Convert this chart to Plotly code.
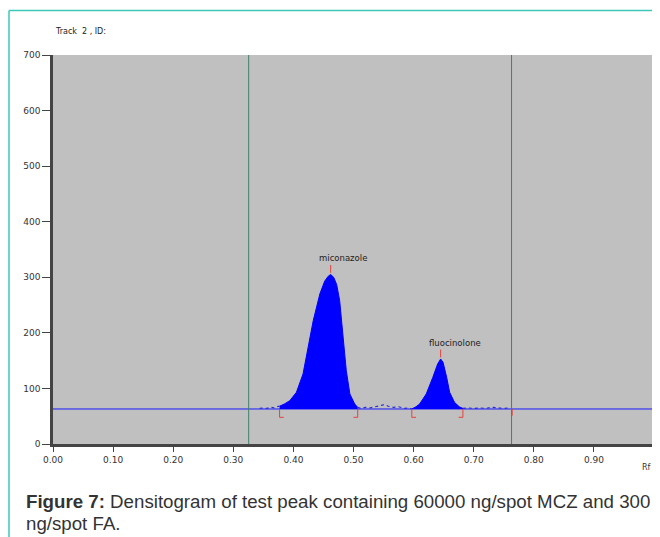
import plotly.graph_objects as go

# baseline of the densitogram (AU)
base = 63

# scan outside the peaks (Rf, AU)
pre_rf = [0.344, 0.350, 0.356, 0.362, 0.368, 0.372, 0.377]
pre_val = [64, 65, 64, 66, 65, 67, 68]
mid_rf = [0.507, 0.512, 0.520, 0.528, 0.536, 0.545, 0.552, 0.558, 0.566, 0.575, 0.585, 0.592, 0.597]
mid_val = [66, 64, 66, 65, 67, 69, 71, 68, 66, 67, 64, 65, 63]
post_rf = [0.682, 0.690, 0.700, 0.710, 0.720, 0.730, 0.740, 0.750, 0.758]
post_val = [64, 65, 64, 65, 64, 66, 65, 64, 65]

# miconazole peak
mic_rf = [0.377, 0.385, 0.394, 0.405, 0.416, 0.424, 0.433, 0.444, 0.452, 0.458, 0.462,
          0.467, 0.472, 0.477, 0.483, 0.488, 0.494, 0.502, 0.507]
mic_val = [68, 72, 78, 93, 126, 168, 222, 270, 293, 302, 305,
           300, 287, 258, 192, 132, 90, 72, 66]

# fluocinolone peak
fluo_rf = [0.597, 0.604, 0.610, 0.621, 0.632, 0.640, 0.645, 0.649, 0.655, 0.660, 0.668, 0.676, 0.682]
fluo_val = [63, 67, 72, 90, 120, 144, 153, 147, 120, 93, 75, 67, 64]

peak_names = ["miconazole", "fluocinolone"]
peak_rf = [0.462, 0.645]
peak_val = [305, 153]
peak_start = [0.377, 0.597]
peak_end = [0.507, 0.682]
track_lines = [0.3256, 0.763]

x_ticks = [0.0, 0.1, 0.2, 0.3, 0.4, 0.5, 0.6, 0.7, 0.8, 0.9]
x_labels = ["0.00", "0.10", "0.20", "0.30", "0.40", "0.50", "0.60", "0.70", "0.80", "0.90"]
y_ticks = [0, 100, 200, 300, 400, 500, 600, 700]

# page body adds an 8px margin, so the figure is drawn 8px in from the window
OFF = 8
W, H = 660 - OFF, 537 - OFF
L, R, T = 45, 6, 47
B = H - T - 389
pw, ph = W - L - R, H - T - B

def px_x(x):  # window pixel -> paper
    return (x - OFF - L) / pw

def px_y(y):
    return (H - B - (y - OFF)) / ph

blue = "#0000ff"
red = "#e8413a"

fig = go.Figure()

# full width baseline
fig.add_trace(go.Scatter(x=[0, 1], y=[base, base], mode="lines",
                         line=dict(color="#1a1aff", width=1), hoverinfo="skip"))

# filled peaks
for rf, val in [(mic_rf, mic_val), (fluo_rf, fluo_val)]:
    fig.add_trace(go.Scatter(x=rf, y=[base] * len(rf), mode="lines",
                             line=dict(width=0, color=blue), hoverinfo="skip"))
    fig.add_trace(go.Scatter(x=rf, y=val, mode="lines", fill="tonexty",
                             fillcolor=blue, line=dict(color=blue, width=1)))

# noisy scan segments
for rf, val in [(pre_rf, pre_val), (mid_rf, mid_val), (post_rf, post_val)]:
    fig.add_trace(go.Scatter(x=rf, y=val, mode="lines",
                             line=dict(color="#2a2ad8", width=1.2, dash="dot")))

# green track limits
for t in track_lines:
    fig.add_shape(type="line", x0=t, x1=t, y0=0, y1=700,
                  line=dict(color="#3f7f6c", width=1))

# red integration brackets
bx, by = [], []
for s, e in zip(peak_start, peak_end):
    bx += [s, s, s + 0.007, None, e, e, e - 0.007, None]
    by += [base, base - 15, base - 15, None, base, base - 15, base - 15, None]
bx += [0.764, 0.764, None]
by += [base, base - 12, None]
for p, v in zip(peak_rf, peak_val):
    bx += [p, p, None]
    by += [v + 3, v + 17, None]
fig.add_trace(go.Scatter(x=bx, y=by, mode="lines", line=dict(color=red, width=1),
                         hoverinfo="skip"))

# peak labels
for name, p, v in zip(peak_names, peak_rf, peak_val):
    fig.add_annotation(x=p - 0.023, y=v + 29, text=name, showarrow=False,
                       xanchor="left", yanchor="middle",
                       font=dict(family="DejaVu Sans", size=8.5, color="#222"))

fig.add_annotation(xref="paper", yref="paper", x=px_x(53), y=px_y(31), text="Track  2 , ID:",
                   showarrow=False, xanchor="left", yanchor="middle",
                   font=dict(family="DejaVu Sans", size=8, color="#222"))
fig.add_annotation(xref="paper", yref="paper", x=px_x(640), y=px_y(467), text="Rf",
                   showarrow=False, xanchor="left", yanchor="middle",
                   font=dict(family="DejaVu Sans", size=8, color="#333"))

# caption
fig.add_annotation(xref="paper", yref="paper", x=px_x(24), y=px_y(501),
                   text="<b>Figure 7:</b> Densitogram of test peak containing 60000 ng/spot MCZ and 300",
                   showarrow=False, xanchor="left", yanchor="middle",
                   font=dict(family="Liberation Sans", size=18.7, color="#333"))
fig.add_annotation(xref="paper", yref="paper", x=px_x(24), y=px_y(523),
                   text="ng/spot FA.", showarrow=False, xanchor="left", yanchor="middle",
                   font=dict(family="Liberation Sans", size=18.7, color="#333"))

# teal page frame
fig.add_shape(type="line", xref="paper", yref="paper", x0=px_x(9), x1=px_x(660),
              y0=px_y(10.5), y1=px_y(10.5), line=dict(color="#3cc8b8", width=1.5))
fig.add_shape(type="line", xref="paper", yref="paper", x0=px_x(9), x1=px_x(9),
              y0=px_y(10.5), y1=px_y(537), line=dict(color="#3cc8b8", width=1.5))

fig.update_layout(
    width=W, height=H,
    margin=dict(l=L, r=R, t=T, b=B),
    paper_bgcolor="white", plot_bgcolor="#c0c0c0",
    showlegend=False,
    font=dict(family="DejaVu Sans", size=8, color="#333"),
)
fig.update_xaxes(range=[0, 1], tickvals=x_ticks, ticktext=x_labels,
                 ticks="outside", ticklen=5, tickcolor="#444", showgrid=False, zeroline=False,
                 showline=True, linecolor="#444", linewidth=2.5,
                 tickfont=dict(size=9, color="#333"))
fig.update_yaxes(range=[0, 700], tickvals=y_ticks,
                 ticks="outside", ticklen=8, tickcolor="#444", showgrid=False, zeroline=False,
                 showline=True, linecolor="#444", linewidth=2.5,
                 tickfont=dict(size=9, color="#333"))

fig.write_html("out.html")
